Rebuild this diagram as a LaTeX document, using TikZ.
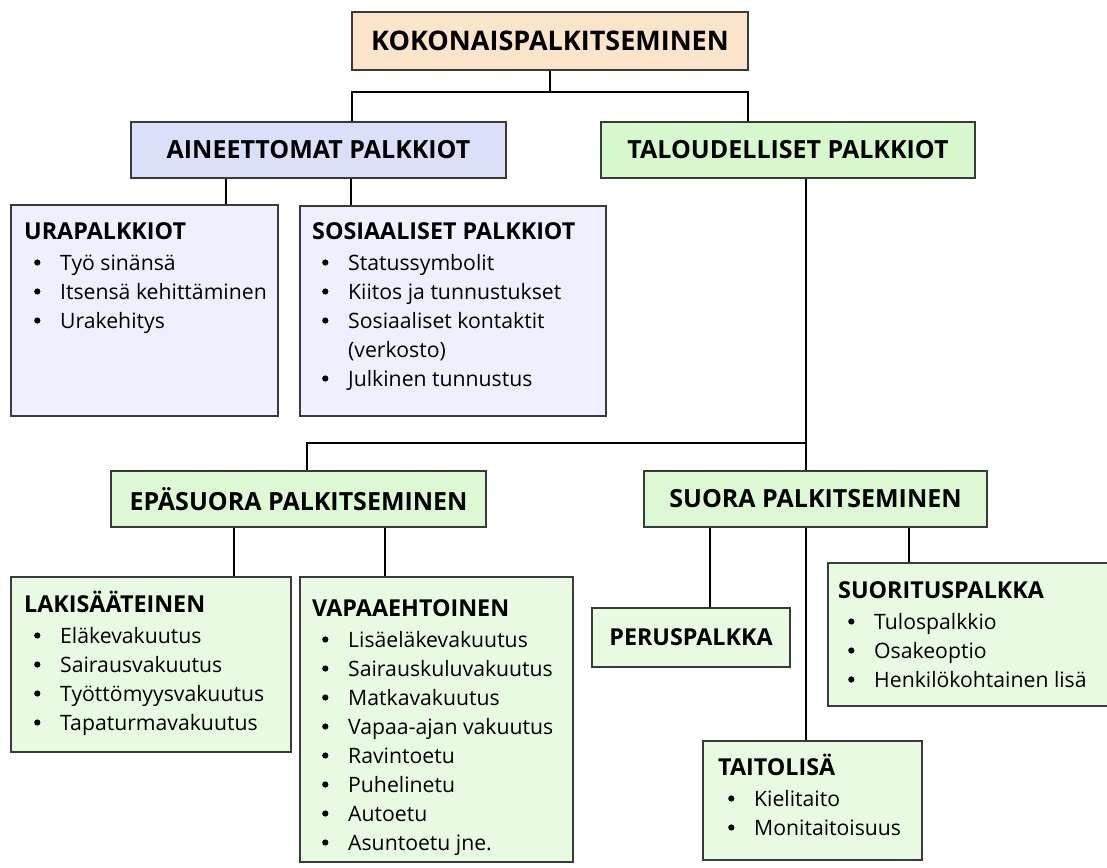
\documentclass[tikz,border=0pt]{standalone}
\usepackage{fontspec}
\setmainfont{Open Sans}
\definecolor{peach}{HTML}{FCE4CA}
\definecolor{lav}{HTML}{DCDFFA}
\definecolor{lavlight}{HTML}{EEF0FD}
\definecolor{grn}{HTML}{D6F8CC}
\definecolor{grnmid}{HTML}{DDF9D4}
\definecolor{grnlight}{HTML}{E9FAE3}
\definecolor{bord}{HTML}{3A3A3A}
\newcommand\bdot{\tikz[baseline=-7.5pt]\fill[black] (0,0) circle (3.1pt);}
\newcommand\bul[1]{\hspace*{10pt}\makebox[26pt][l]{\bdot}#1}
\newcommand\cont[1]{\hspace*{36pt}#1}
\newcommand\hd[1]{{\bfseries\fontsize{23.3}{29}\selectfont #1}}
\tikzset{
  box/.style={draw=bord, line width=1.3pt, rectangle, inner sep=0pt},
  hbox/.style={box, font=\bfseries\fontsize{25}{29}\selectfont},
  content/.style={inner sep=0pt, anchor=base west, font=\fontsize{21.2}{29}\selectfont},
  conn/.style={draw=black, line width=2pt},
}
\begin{document}
\begin{tikzpicture}[x=1pt,y=-1pt]
\useasboundingbox (0,0) rectangle (1107,867);
% boxes
\node[box, fill=peach, minimum width=396pt, minimum height=58pt, font=\bfseries\fontsize{27}{30}\selectfont] (T) at (550,41) {KOKONAISPALKITSEMINEN};
\node[hbox, fill=lav, minimum width=375pt, minimum height=56pt] (A) at (318.5,150) {AINEETTOMAT PALKKIOT};
\node[hbox, fill=grn, minimum width=374pt, minimum height=56pt] (Tal) at (788,150) {TALOUDELLISET PALKKIOT};
\node[box, fill=lavlight, minimum width=267pt, minimum height=211pt] (Ura) at (144.5,310.5) {};
\node[box, fill=lavlight, minimum width=306pt, minimum height=210pt] (Sos) at (453,311) {};
\node[hbox, fill=grnmid, minimum width=375pt, minimum height=56pt] (Eps) at (298.5,499) {EPÄSUORA PALKITSEMINEN};
\node[hbox, fill=grnmid, minimum width=343pt, minimum height=56pt] (Suora) at (815.5,499) {SUORA PALKITSEMINEN};
\node[box, fill=grnlight, minimum width=280pt, minimum height=175pt] (Lak) at (151,664.5) {};
\node[box, fill=grnlight, minimum width=273pt, minimum height=285pt] (Vap) at (436.5,719.5) {};
\node[box, fill=grnlight, minimum width=198pt, minimum height=59pt, font=\bfseries\fontsize{23.3}{29}\selectfont] (Perus) at (691,637.5) {PERUSPALKKA};
\node[box, fill=grnlight, minimum width=282pt, minimum height=143pt] (Suor) at (969,634.5) {};
\node[box, fill=grnlight, minimum width=219pt, minimum height=119pt] (Taito) at (812.5,800.5) {};
% contents
\node[content] (UraT) at (24,239) {\begin{tabular}[t]{@{}l@{}}\hd{URAPALKKIOT}\\[2pt]
\bul{Työ sinänsä}\\ \bul{Itsensä kehittäminen}\\ \bul{Urakehitys}\end{tabular}};
\node[content] (SosT) at (312,239) {\begin{tabular}[t]{@{}l@{}}\hd{SOSIAALISET PALKKIOT}\\[2pt]
\bul{Statussymbolit}\\ \bul{Kiitos ja tunnustukset}\\ \bul{Sosiaaliset kontaktit}\\ \cont{(verkosto)}\\ \bul{Julkinen tunnustus}\end{tabular}};
\node[content] (LakT) at (24,612) {\begin{tabular}[t]{@{}l@{}}\hd{LAKISÄÄTEINEN}\\[2pt]
\bul{Eläkevakuutus}\\ \bul{Sairausvakuutus}\\ \bul{Työttömyysvakuutus}\\ \bul{Tapaturmavakuutus}\end{tabular}};
\node[content] (VapT) at (312,616) {\begin{tabular}[t]{@{}l@{}}\hd{VAPAAEHTOINEN}\\[2pt]
\bul{Lisäeläkevakuutus}\\ \bul{Sairauskuluvakuutus}\\ \bul{Matkavakuutus}\\ \bul{Vapaa-ajan vakuutus}\\ \bul{Ravintoetu}\\ \bul{Puhelinetu}\\ \bul{Autoetu}\\ \bul{Asuntoetu jne.}\end{tabular}};
\node[content] (SuorT) at (838,598) {\begin{tabular}[t]{@{}l@{}}\hd{SUORITUSPALKKA}\\[2pt]
\bul{Tulospalkkio}\\ \bul{Osakeoptio}\\ \bul{Henkilökohtainen lisä}\end{tabular}};
\node[content] (TaitoT) at (718,775) {\begin{tabular}[t]{@{}l@{}}\hd{TAITOLISÄ}\\[2pt]
\bul{Kielitaito}\\ \bul{Monitaitoisuus}\end{tabular}};
% connectors
\coordinate (tb) at (550,92);
\coordinate (jn) at (806,443);
\draw[conn] (T.south) -- (tb);
\draw[conn] ([xshift=33.5pt]A.north) |- (tb) -| ([xshift=-40pt]Tal.north);
\draw[conn] ([xshift=-92.5pt]A.south) -- ([xshift=-92.5pt]A.south |- Ura.north);
\draw[conn] ([xshift=32.5pt]A.south) -- ([xshift=32.5pt]A.south |- Sos.north);
\draw[conn, line width=2.4pt] ([xshift=18pt]Tal.south) -- ([xshift=-9.5pt]Suora.north);
\draw[conn] ([xshift=8.5pt]Eps.north) |- (jn);
\draw[conn] ([xshift=-64.5pt]Eps.south) -- ([xshift=-64.5pt]Eps.south |- Lak.north);
\draw[conn] ([xshift=86.5pt]Eps.south) -- ([xshift=86.5pt]Eps.south |- Vap.north);
\draw[conn] ([xshift=-105.5pt]Suora.south) -- ([xshift=-105.5pt]Suora.south |- Perus.north);
\draw[conn] ([xshift=-9.5pt]Suora.south) -- ([xshift=-9.5pt]Suora.south |- Taito.north);
\draw[conn] ([xshift=93.5pt]Suora.south) -- ([xshift=93.5pt]Suora.south |- Suor.north);
\end{tikzpicture}
\end{document}
